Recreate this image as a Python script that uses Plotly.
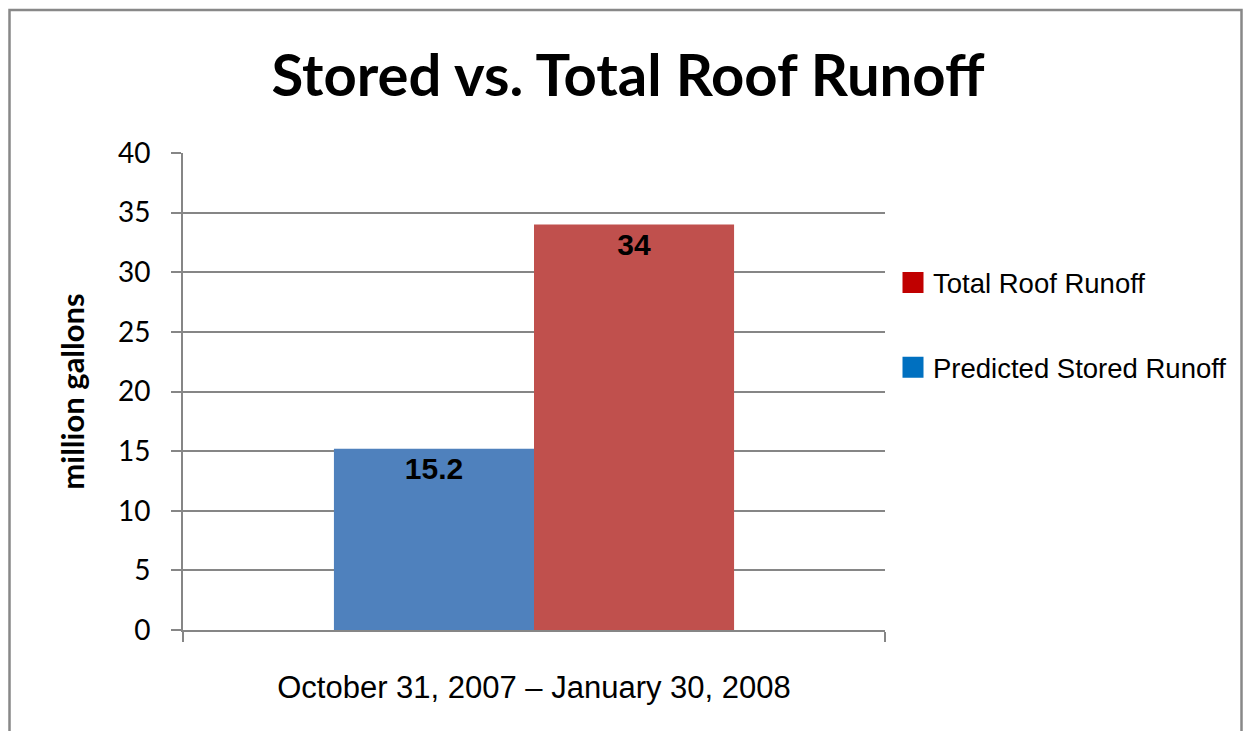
import plotly.graph_objects as go

categories = ["October 31, 2007 – January 30, 2008"]
stored = [15.2]
total = [34]
series_names = ["Predicted Stored Runoff", "Total Roof Runoff"]
bar_colors = ["#4F81BD", "#C0504D"]
legend_colors = ["#0070C0", "#C00000"]
y_ticks = [0, 5, 10, 15, 20, 25, 30, 35, 40]

OFF = 8  # page body margin
W, H = 1252 - 2 * OFF, 739 - 2 * OFF  # keep page free of scrollbars
L, R, T, B = 183 - OFF, 885 - OFF, 153 - OFF, 630 - OFF

fig = go.Figure()
for name, vals, col in zip(series_names, [stored, total], bar_colors):
    fig.add_trace(go.Bar(
        x=categories, y=vals, name=name, marker=dict(color=col, line=dict(width=0)),
        text=[str(v) for v in vals], textposition="inside", insidetextanchor="end",
        textangle=0,
        textfont=dict(family="Liberation Sans, Arial", size=30, color="black", weight="bold"),
        showlegend=False, cliponaxis=False,
    ))

# legend entries (Excel legend swatches use different colors)
for i, (name, col) in enumerate(zip(series_names, legend_colors)):
    fig.add_trace(go.Scatter(
        x=[None], y=[None], mode="markers", name=name,
        marker=dict(symbol="square", size=16, color=col, line=dict(color=col, width=5)),
        legendgroup=name, legendrank=2 - i,
    ))

def px_x(p):
    return (p - OFF - L) / (R - L)

def px_y(p):
    return (B - (p - OFF)) / (B - T)

fig.add_shape(type="rect", xref="paper", yref="paper",
              x0=px_x(9.5), x1=px_x(1241.5), y0=px_y(760), y1=px_y(10),
              line=dict(color="#888888", width=2.5), fillcolor="rgba(0,0,0,0)", layer="below")

fig.update_layout(
    width=W, height=H,
    margin=dict(l=L, r=W - R, t=T, b=H - B),
    paper_bgcolor="white", plot_bgcolor="white",
    barmode="group", bargap=0.43, bargroupgap=0,
    title=dict(text="<b>Stored vs. Total Roof Runoff</b>", x=(628 - OFF) / W, xanchor="center",
               xref="container", y=1 - (76 - OFF) / H, yanchor="middle", yref="container",
               font=dict(family="Lato", size=58, color="black")),
    legend=dict(x=px_x(893), xanchor="left", y=px_y(258), yanchor="top",
                traceorder="grouped", tracegroupgap=46,
                font=dict(family="Liberation Sans, Arial", size=27.5, color="black"),
                bgcolor="rgba(0,0,0,0)", itemsizing="trace"),
    xaxis=dict(showline=True, linecolor="#868686", linewidth=2,
               ticks="outside", ticklen=10, tickcolor="#868686", tickwidth=2,
               tickson="boundaries", ticklabelstandoff=29,
               tickfont=dict(family="Liberation Sans, Arial", size=31, color="black"),
               showgrid=False),
    yaxis=dict(range=[0, 40], tickvals=y_ticks, showline=True, linecolor="#868686", linewidth=2,
               ticks="outside", ticklen=10, tickcolor="#868686", tickwidth=2,
               ticklabelstandoff=15,
               showgrid=True, gridcolor="#868686", gridwidth=2, zeroline=False,
               tickfont=dict(family="Lato", size=28, color="black"),
               title=dict(text="<b>million gallons</b>", standoff=24,
                          font=dict(family="Lato", size=31, color="black"))),
)

fig.write_html("out.html")
